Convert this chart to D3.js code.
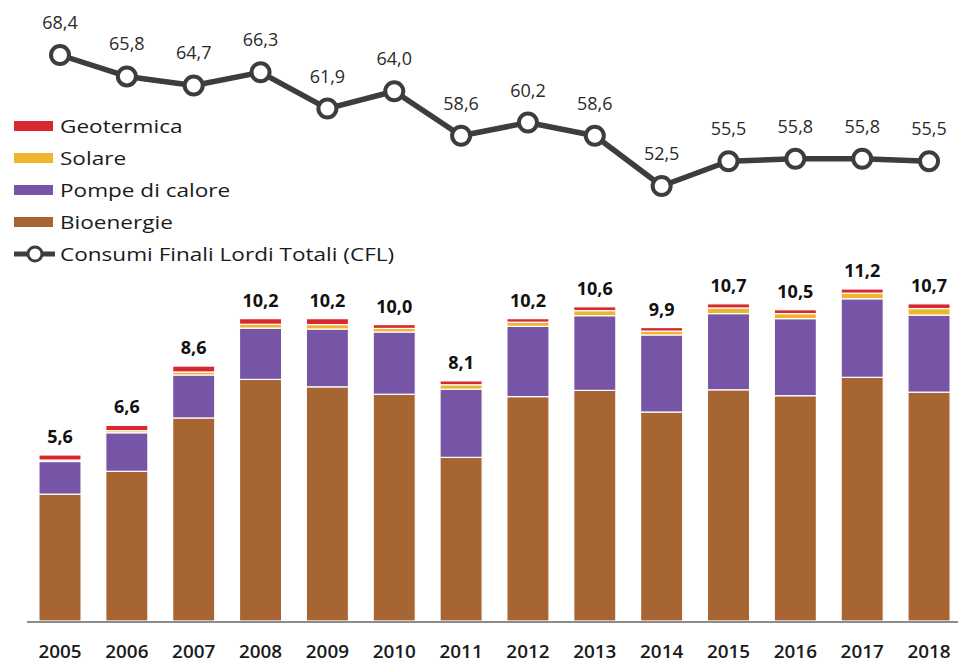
<!DOCTYPE html>
<html>
<head>
<meta charset="utf-8">
<script src="https://cdn.jsdelivr.net/npm/d3@7"></script>
<style>
  body { margin: 0; background: #fff; }
  svg { display: block; font-family: "Open Sans", "Liberation Sans", sans-serif; }
</style>
</head>
<body>
<svg id="chart" width="958" height="664"></svg>
<script>
// data
var years = ['2005', '2006', '2007', '2008', '2009', '2010', '2011', '2012', '2013', '2014', '2015', '2016', '2017', '2018'];
var bioenergie = [4.28, 5.05, 6.85, 8.15, 7.90, 7.65, 5.52, 7.57, 7.78, 7.05, 7.80, 7.60, 8.22, 7.72];
var pompe = [1.10, 1.30, 1.45, 1.73, 1.95, 2.10, 2.30, 2.37, 2.52, 2.60, 2.57, 2.60, 2.65, 2.60];
var solare = [0.05, 0.07, 0.10, 0.13, 0.15, 0.12, 0.15, 0.14, 0.17, 0.13, 0.19, 0.17, 0.19, 0.22];
var geotermica = [0.17, 0.18, 0.20, 0.19, 0.20, 0.13, 0.13, 0.12, 0.13, 0.12, 0.14, 0.13, 0.14, 0.16];
var totali = ['5,6', '6,6', '8,6', '10,2', '10,2', '10,0', '8,1', '10,2', '10,6', '9,9', '10,7', '10,5', '11,2', '10,7'];
var cfl = [68.4, 65.8, 64.7, 66.3, 61.9, 64.0, 58.6, 60.2, 58.6, 52.5, 55.5, 55.8, 55.8, 55.5];

var seriesKeys = ['Bioenergie', 'Pompe di calore', 'Solare', 'Geotermica'];
var colors = {
  'Bioenergie': '#a76534',
  'Pompe di calore': '#7654a6',
  'Solare': '#efb52c',
  'Geotermica': '#d8282f'
};

var svg = d3.select('#chart');

var rows = years.map(function (y, i) {
  return {
    year: y,
    'Bioenergie': bioenergie[i],
    'Pompe di calore': pompe[i],
    'Solare': solare[i],
    'Geotermica': geotermica[i]
  };
});

var step = 66.85;
var x = d3.scaleBand()
  .domain(years)
  .range([60 - step / 2, 60 - step / 2 + step * years.length])
  .paddingInner(0.37)
  .paddingOuter(0.185);

var baseY = 621;
var y = d3.scaleLinear().domain([0, 11.2]).range([baseY, 289]);

var stacked = d3.stack().keys(seriesKeys)(rows);

svg.append('g')
  .selectAll('g')
  .data(stacked)
  .enter()
  .append('g')
  .attr('fill', d => colors[d.key])
  .selectAll('rect')
  .data(d => d)
  .enter()
  .append('rect')
  .attr('x', d => x(d.data.year))
  .attr('width', x.bandwidth())
  .attr('y', d => y(d[1]))
  .attr('height', d => y(d[0]) - y(d[1]))
  .attr('stroke', '#fff')
  .attr('stroke-width', 1.2);

// baseline
svg.append('line')
  .attr('x1', 27).attr('x2', 958)
  .attr('y1', baseY + 1).attr('y2', baseY + 1)
  .attr('stroke', '#8c8c8c')
  .attr('stroke-width', 2);

// year labels
svg.append('g')
  .selectAll('text')
  .data(years)
  .enter()
  .append('text')
  .attr('transform', d => `translate(${x(d) + x.bandwidth() / 2},658) scale(1.08,1)`)
  .attr('text-anchor', 'middle')
  .attr('font-size', 17.5)
  .attr('font-weight', 600)
  .attr('fill', '#1a1a1a')
  .text(d => d);

// totals above bars
svg.append('g')
  .selectAll('text')
  .data(stacked[stacked.length - 1])
  .enter()
  .append('text')
  .attr('x', d => x(d.data.year) + x.bandwidth() / 2)
  .attr('y', d => y(d[1]) - 12)
  .attr('text-anchor', 'middle')
  .attr('font-size', 18)
  .attr('font-weight', 700)
  .attr('fill', '#111')
  .text((d, i) => totali[i]);

// CFL line
var yl = d3.scaleLinear().domain([52.5, 68.4]).range([186, 55]);
var cx = d => x(d) + x.bandwidth() / 2;

var line = d3.line()
  .x((d, i) => cx(years[i]))
  .y(d => yl(d));

svg.append('path')
  .datum(cfl)
  .attr('d', line)
  .attr('fill', 'none')
  .attr('stroke', '#3d3d3d')
  .attr('stroke-width', 5.5)
  .attr('stroke-linejoin', 'round');

svg.append('g')
  .selectAll('circle')
  .data(cfl)
  .enter()
  .append('circle')
  .attr('cx', (d, i) => cx(years[i]))
  .attr('cy', d => yl(d))
  .attr('r', 9)
  .attr('fill', '#fff')
  .attr('stroke', '#3d3d3d')
  .attr('stroke-width', 4);

svg.append('g')
  .selectAll('text')
  .data(cfl)
  .enter()
  .append('text')
  .attr('x', (d, i) => cx(years[i]))
  .attr('y', d => yl(d) - 26)
  .attr('text-anchor', 'middle')
  .attr('font-size', 18)
  .attr('fill', '#2a2a2a')
  .text(d => d3.format('.1f')(d).replace('.', ','));

// legend
var legendItems = ['Geotermica', 'Solare', 'Pompe di calore', 'Bioenergie'];
var lg = svg.append('g').attr('transform', 'translate(14,126)');

legendItems.forEach(function (k, i) {
  lg.append('rect')
    .attr('x', 0).attr('y', i * 32 - 5)
    .attr('width', 39).attr('height', 10)
    .attr('fill', colors[k]);
  lg.append('text')
    .attr('transform', `translate(46,${i * 32 + 7}) scale(1.22,1)`)
    .attr('font-size', 18.5)
    .attr('fill', '#1a1a1a')
    .text(k);
});

var cflRow = 4 * 32;
lg.append('line')
  .attr('x1', 0).attr('x2', 41)
  .attr('y1', cflRow).attr('y2', cflRow)
  .attr('stroke', '#3d3d3d')
  .attr('stroke-width', 5);
lg.append('circle')
  .attr('cx', 21).attr('cy', cflRow)
  .attr('r', 7)
  .attr('fill', '#fff')
  .attr('stroke', '#3d3d3d')
  .attr('stroke-width', 3);
lg.append('text')
  .attr('transform', `translate(46,${cflRow + 7}) scale(1.22,1)`)
  .attr('font-size', 18.5)
  .attr('fill', '#1a1a1a')
  .text('Consumi Finali Lordi Totali (CFL)');
</script>
</body>
</html>
